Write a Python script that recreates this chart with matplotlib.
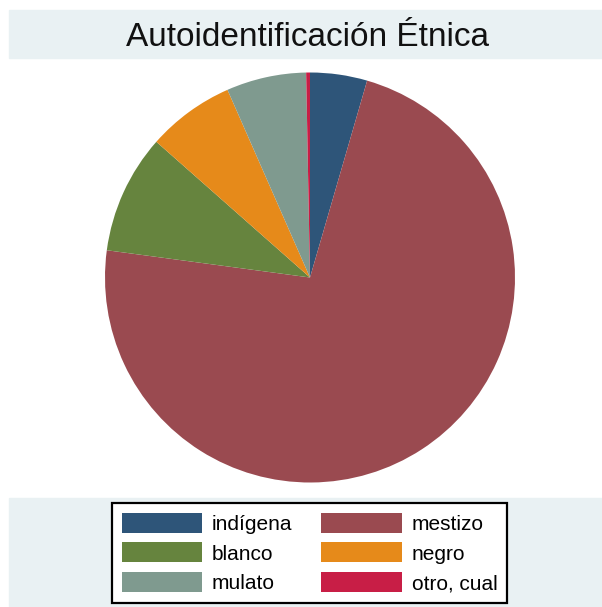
import matplotlib.pyplot as plt
from matplotlib.patches import Rectangle

# values (percent of respondents)
categories = ["indígena", "mestizo", "blanco", "negro", "mulato", "otro, cual"]
shares = [4.5, 72.7, 9.4, 6.9, 6.3, 0.3]
colors = ["#2e5579", "#9a4a50", "#66843e", "#e68a1a", "#7f9a8f", "#c81e46"]

W, H = 602, 607
fig = plt.figure(figsize=(W / 100, H / 100), dpi=100)
fig.patch.set_facecolor("white")

band = "#e9f1f3"
# title band and legend band (pixel coords -> figure fraction)
fig.patches.append(Rectangle((9 / W, 1 - 58 / H), (W - 9) / W, 48 / H,
                             transform=fig.transFigure, color=band, zorder=0))
fig.patches.append(Rectangle((9 / W, 0), (W - 9) / W, (H - 498) / H,
                             transform=fig.transFigure, color=band, zorder=0))
fig.text(308 / W, 1 - 37 / H, "Autoidentificación Étnica", ha="center", va="center",
         fontsize=24, family="Liberation Sans", color="#111111")

# pie: centre (310, 277.5), radius ~205 px
cx, cy, r = 310, 277.5, 205
ax = fig.add_axes([(cx - r) / W, (H - cy - r) / H, 2 * r / W, 2 * r / H])
wedges, _ = ax.pie(shares, colors=colors, startangle=90, counterclock=False,
                   radius=1, wedgeprops=dict(linewidth=0))
ax.set_xlim(-1, 1)
ax.set_ylim(-1, 1)
ax.set_aspect("auto")
ax.axis("off")

# Stata fills the legend row-wise, matplotlib column-wise
order = [0, 2, 4, 1, 3, 5]
leg = fig.legend([wedges[i] for i in order], [categories[i] for i in order],
                 ncol=2, loc="center", bbox_to_anchor=(309.5 / W, 1 - 553 / H),
                 prop={"family": "Liberation Sans", "size": 15},
                 handlelength=3.85, handleheight=1.1, handletextpad=0.48,
                 labelspacing=0.42, columnspacing=1.4, borderpad=0.45,
                 fancybox=False, framealpha=1, edgecolor="black")
leg.get_frame().set_linewidth(1.6)

fig.savefig("out.png", dpi=100)
